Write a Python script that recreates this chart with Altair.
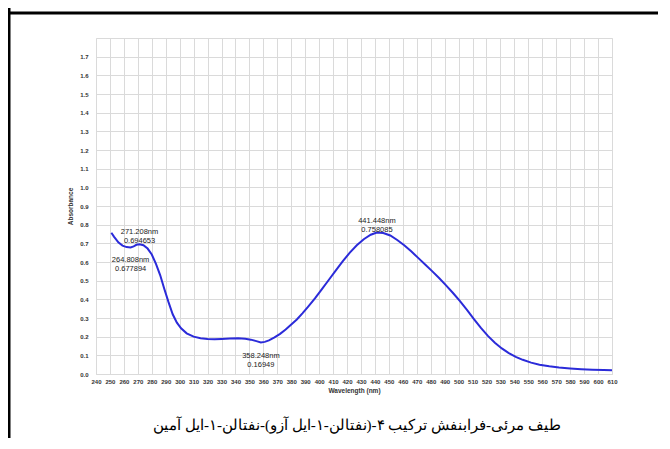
import altair as alt
import pandas as pd

# Spectrum (wavelength nm, absorbance)
wavelength = [251, 253, 256, 259, 262, 264.8, 267, 269, 271.2, 274, 277, 280, 283, 286, 289,
              292, 295, 298, 301, 305, 310, 315, 320, 325, 330, 336, 342, 347, 351, 355,
              358.2, 361, 364, 368, 372, 376, 380, 384, 388, 392, 397, 402, 407, 412, 417,
              422, 427, 432, 437, 441.4, 446, 451, 456, 461, 466, 471, 476, 481, 486, 491,
              496, 501, 506, 511, 516, 521, 526, 531, 536, 541, 546, 552, 558, 565, 572,
              580, 588, 596, 604, 610]
absorbance = [0.757, 0.735, 0.705, 0.688, 0.680, 0.678, 0.684, 0.692, 0.695, 0.690, 0.672, 0.640,
              0.590, 0.530, 0.455, 0.385, 0.320, 0.275, 0.245, 0.218, 0.200, 0.192, 0.188,
              0.186, 0.188, 0.190, 0.191, 0.189, 0.184, 0.176, 0.169, 0.172, 0.180, 0.196,
              0.215, 0.238, 0.265, 0.292, 0.325, 0.360, 0.405, 0.455, 0.505, 0.555, 0.605,
              0.650, 0.690, 0.722, 0.746, 0.758, 0.755, 0.742, 0.718, 0.690, 0.657, 0.622,
              0.587, 0.551, 0.514, 0.475, 0.434, 0.390, 0.343, 0.294, 0.247, 0.204, 0.167,
              0.137, 0.112, 0.092, 0.076, 0.061, 0.050, 0.041, 0.035, 0.030, 0.026, 0.023,
              0.021, 0.020]

# Peak annotations
ann_x = [271.208, 264.808, 441.448, 358.248]
ann_y = [0.694653, 0.677894, 0.758085, 0.16949]
ann_text = [["271.208nm", "0.694653"], ["264.808nm", "0.677894"],
            ["441.448nm", "0.758085"], ["358.248nm", "0.16949"]]

x_ticks = list(range(240, 611, 10))
y_ticks = [round(i * 0.1, 1) for i in range(0, 18)]

caption = "طیف مرئی-فرابنفش ترکیب ۴-(نفتالن-۱-ایل آزو)-نفتالن-۱-ایل آمین"

df = pd.DataFrame({"wl": wavelength, "abs": absorbance})
ann = pd.DataFrame({"wl": ann_x, "abs": ann_y, "label": ann_text})

xs = alt.Scale(domain=[240, 610], nice=False, zero=False)
ys = alt.Scale(domain=[0, 1.8], nice=False)

xax = alt.Axis(values=x_ticks, labelAngle=0, labelOverlap=False, labelFlush=False,
               labelFontSize=6, labelFontWeight="bold", labelColor="#333",
               labelPadding=4, titleFontSize=6.5, titleFontWeight="bold",
               titleColor="#333", titlePadding=3, domain=False, ticks=False,
               gridColor="#dadada", gridWidth=1, labelFont="Liberation Sans Narrow, Liberation Sans",
               titleFont="Liberation Sans")
yax = alt.Axis(values=y_ticks, format=".1f", labelFontSize=6,
               labelFontWeight="bold", labelColor="#333", labelPadding=8,
               titleFontSize=6.5, titleFontWeight="bold", titleColor="#333",
               titlePadding=6, domain=False, ticks=False,
               gridColor="#dadada", gridWidth=1, labelFont="Liberation Sans",
               titleFont="Liberation Sans")

X = alt.X("wl:Q", scale=xs, title="Wavelength (nm)", axis=xax)
Y = alt.Y("abs:Q", scale=ys, title="Absorbance", axis=yax)

line = alt.Chart(df).mark_line(color="#2b2bd9", strokeWidth=2).encode(x=X, y=Y)

def ann_layer(i, baseline, dy):
    return alt.Chart(ann.iloc[[i]]).mark_text(
        baseline=baseline, align="center", dy=dy, fontSize=7.5, color="#222",
        font="Liberation Sans", lineHeight=9
    ).encode(x=X, y=Y, text="label")

a1 = ann_layer(0, "bottom", -8)
a2 = ann_layer(1, "top", 9)
a3 = ann_layer(2, "bottom", -7)
a4 = ann_layer(3, "top", 10)

cap = alt.Chart(pd.DataFrame({"t": [caption]})).mark_text(
    fontSize=15, font="Liberation Serif", color="#000", align="center", baseline="middle"
).encode(x=alt.value(261), y=alt.value(387), text="t:N")

frame_top = alt.Chart(pd.DataFrame({"a": [0]})).mark_rule(color="#000", strokeWidth=3).encode(
    x=alt.value(-88), x2=alt.value(600), y=alt.value(-25))
frame_left = alt.Chart(pd.DataFrame({"a": [0]})).mark_rule(color="#000", strokeWidth=3).encode(
    x=alt.value(-87), y=alt.value(-30), y2=alt.value(400))

chart = alt.layer(line, a1, a2, a3, a4, cap, frame_top, frame_left).properties(
    width=516, height=336,
    autosize=alt.AutoSizeParams(type="none"),
    padding={"left": 88, "top": 30, "right": 46, "bottom": 64},
    background="white",
).configure_view(stroke="#dadada", strokeWidth=1)

chart.save("out.html", embed_options={"renderer": "svg", "actions": False})
